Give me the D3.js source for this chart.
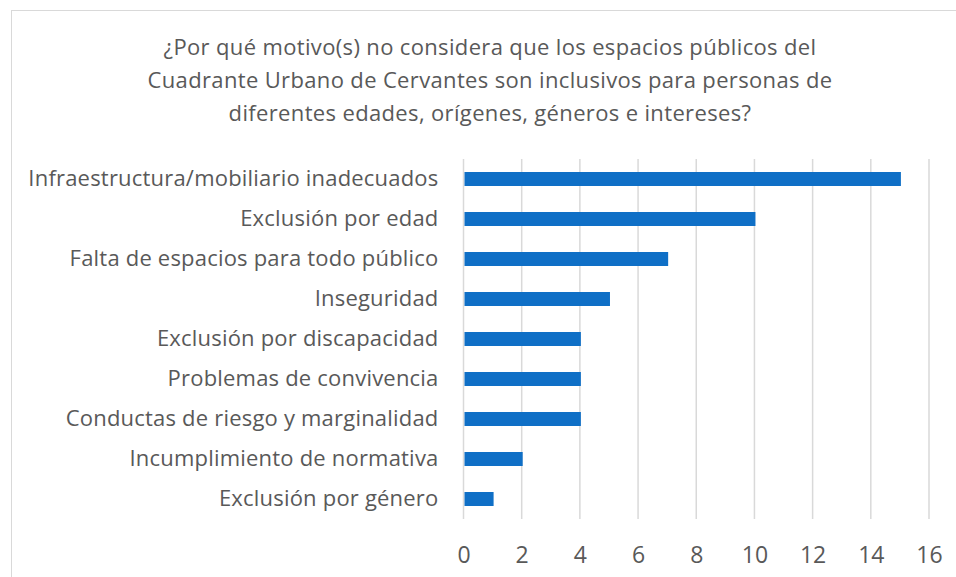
<!DOCTYPE html>
<html>
<head>
<meta charset="utf-8">
<script src="https://cdn.jsdelivr.net/npm/d3@7"></script>
<style>
  body { margin: 0; background: #fff; }
  svg text { font-family: "Open Sans", "Noto Sans", sans-serif; fill: #595959; }
</style>
</head>
<body>
<div id="chart"></div>
<script>
// data
const categories = [
  "Infraestructura/mobiliario inadecuados",
  "Exclusión por edad",
  "Falta de espacios para todo público",
  "Inseguridad",
  "Exclusión por discapacidad",
  "Problemas de convivencia",
  "Conductas de riesgo y marginalidad",
  "Incumplimiento de normativa",
  "Exclusión por género"
];
const values = [15, 10, 7, 5, 4, 4, 4, 2, 1];
const xTicks = [0, 2, 4, 6, 8, 10, 12, 14, 16];
const titleLines = [
  "¿Por qué motivo(s) no considera que los espacios públicos del",
  "Cuadrante Urbano de Cervantes son inclusivos para personas de",
  "diferentes edades, orígenes, géneros e intereses?"
];

const W = 956, H = 577;
const margin = {top: 159, right: 27, bottom: 58, left: 463.5};
const width = W - margin.left - margin.right,
      height = H - margin.top - margin.bottom;

const svg = d3.select("#chart").append("svg")
  .attr("width", W)
  .attr("height", H);

// frame
svg.append("rect")
  .attr("x", 11.5).attr("y", 10.5)
  .attr("width", W).attr("height", H)
  .attr("fill", "none")
  .attr("stroke", "#d9d9d9");

// title
svg.append("g").selectAll("text")
  .data(titleLines)
  .enter()
  .append("text")
    .attr("x", 490)
    .attr("y", (d, i) => 55 + i * 33)
    .attr("text-anchor", "middle")
    .style("font-size", "22px")
    .style("letter-spacing", "0.35px")
    .text(d => d);

const g = svg.append("g")
  .attr("transform", `translate(${margin.left}, ${margin.top})`);

const x = d3.scaleLinear()
  .domain([0, 16])
  .range([0, width]);

const y = d3.scaleBand()
  .domain(categories)
  .range([0, height])
  .paddingInner(0.65)
  .paddingOuter(0.325);

// gridlines
g.append("g").selectAll("line")
  .data(xTicks)
  .enter()
  .append("line")
    .attr("x1", d => x(d)).attr("x2", d => x(d))
    .attr("y1", 0).attr("y2", height)
    .attr("stroke", "#d9d9d9")
    .attr("stroke-width", 1.5);

// x axis
const xAxis = g.append("g")
  .attr("transform", `translate(0, ${height})`)
  .call(d3.axisBottom(x).tickValues(xTicks).tickSize(0).tickPadding(28));
xAxis.select(".domain").remove();
xAxis.selectAll("text").style("font-size", "23px");

// y axis
const yAxis = g.append("g")
  .call(d3.axisLeft(y).tickSize(0).tickPadding(25));
yAxis.select(".domain").remove();
yAxis.selectAll("text")
  .style("font-size", "22px")
  .style("letter-spacing", "0.2px");

// bars
g.selectAll("rect.bar")
  .data(values)
  .enter()
  .append("rect")
    .attr("class", "bar")
    .attr("x", x(0) + 1)
    .attr("y", (d, i) => y(categories[i]))
    .attr("width", d => x(d) - x(0))
    .attr("height", y.bandwidth())
    .attr("fill", "#0F6FC6");
</script>
</body>
</html>
